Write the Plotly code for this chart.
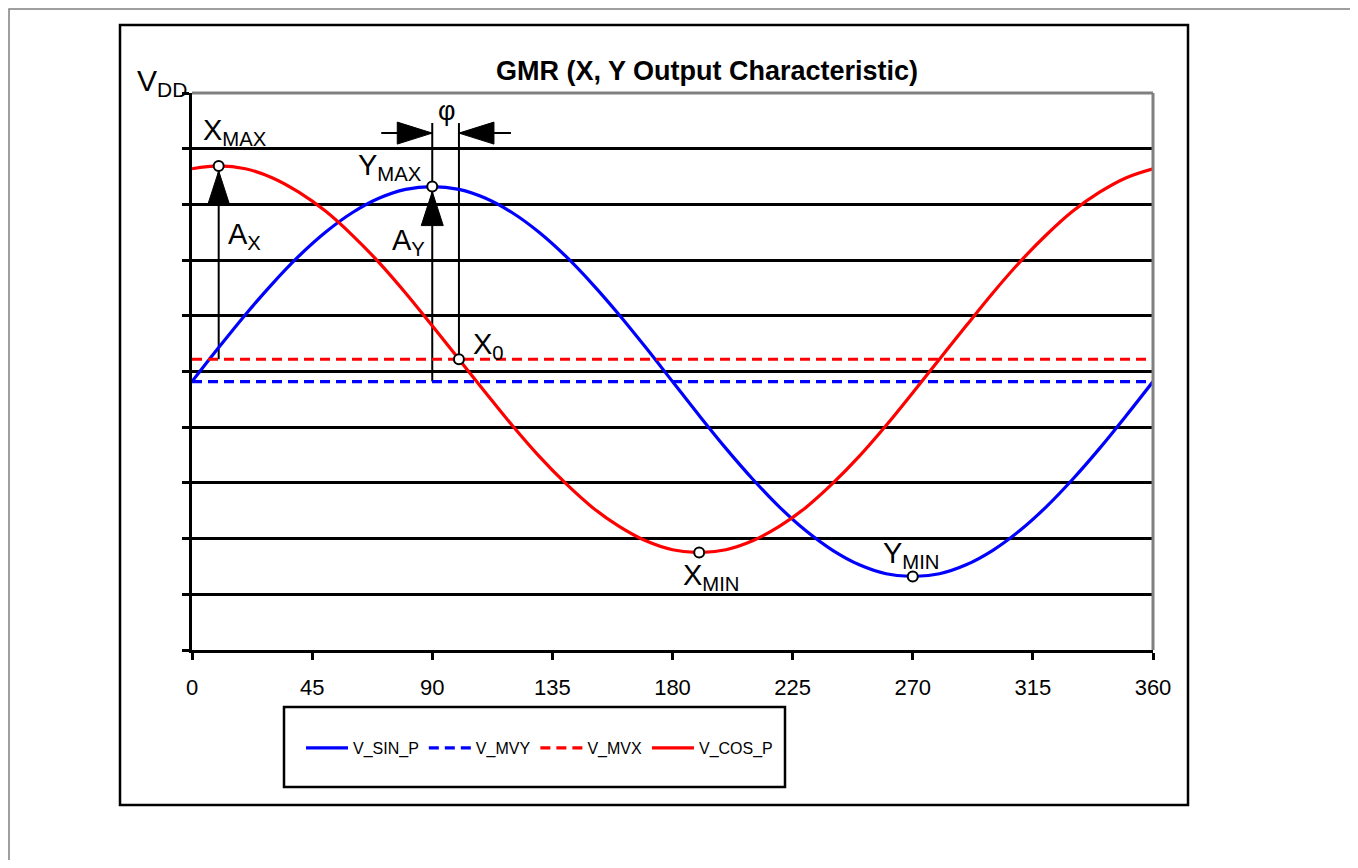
import plotly.graph_objects as go

# ---------------- data ----------------
DEG = list(range(0, 361, 10))
V_SIN_P = [4.82, 5.43, 6.02, 6.57, 7.07, 7.50, 7.85, 8.11, 8.27, 8.32,
           8.27, 8.11, 7.85, 7.50, 7.07, 6.57, 6.02, 5.43, 4.82, 4.21,
           3.62, 3.07, 2.57, 2.14, 1.79, 1.53, 1.37, 1.32, 1.37, 1.53,
           1.79, 2.14, 2.57, 3.07, 3.62, 4.21, 4.82]
V_COS_P = [8.64, 8.69, 8.64, 8.48, 8.22, 7.88, 7.45, 6.96, 6.41, 5.82,
           5.22, 4.62, 4.03, 3.48, 2.99, 2.56, 2.22, 1.96, 1.80, 1.75,
           1.80, 1.96, 2.22, 2.56, 2.99, 3.48, 4.03, 4.62, 5.22, 5.82,
           6.41, 6.96, 7.45, 7.88, 8.22, 8.48, 8.64]
MV_DEG = [0, 360]
V_MVY = [4.82, 4.82]
V_MVX = [5.22, 5.22]
X_TICKS = [0, 45, 90, 135, 180, 225, 270, 315, 360]
Y_TICKS = [0, 1, 2, 3, 4, 5, 6, 7, 8, 9, 10]
TITLE = "GMR (X, Y Output Characteristic)"

# characteristic points read from the series
i_xmax = V_COS_P.index(max(V_COS_P))
i_xmin = V_COS_P.index(min(V_COS_P))
i_ymax = V_SIN_P.index(max(V_SIN_P))
i_ymin = V_SIN_P.index(min(V_SIN_P))
i_x0 = 10  # 100 deg, where V_COS_P crosses V_MVX
PT_X = [DEG[i_xmax], DEG[i_ymax], DEG[i_x0], DEG[i_xmin], DEG[i_ymin]]
PT_Y = [V_COS_P[i_xmax], V_SIN_P[i_ymax], V_MVX[0], V_COS_P[i_xmin], V_SIN_P[i_ymin]]

# ---------------- layout geometry (screen coords, page has 8px body margin) ----------------
OFF = 8
W, H = 1342, 852
L, R, T, B = 192, 1153, 93, 650   # plot area on screen
PW, PH = R - L, B - T


def px(x):
    return (x - L) / PW


def py(y):
    return (B - y) / PH


FONT = "Liberation Sans, Arial, sans-serif"
BLUE = "#0000FF"
RED = "#FF0000"
GRAY = "#808080"

fig = go.Figure()
fig.add_trace(go.Scatter(x=DEG, y=V_SIN_P, name="V_SIN_P", mode="lines",
                         line=dict(color=BLUE, width=3.2, shape="spline")))
fig.add_trace(go.Scatter(x=MV_DEG, y=V_MVY, name="V_MVY", mode="lines",
                         line=dict(color=BLUE, width=3.2, dash="10px,6px")))
fig.add_trace(go.Scatter(x=MV_DEG, y=V_MVX, name="V_MVX", mode="lines",
                         line=dict(color=RED, width=3.2, dash="10px,6px")))
fig.add_trace(go.Scatter(x=DEG, y=V_COS_P, name="V_COS_P", mode="lines",
                         line=dict(color=RED, width=3.2, shape="spline")))
fig.add_trace(go.Scatter(x=PT_X, y=PT_Y, mode="markers", showlegend=False,
                         marker=dict(symbol="circle", size=10, color="white",
                                     line=dict(color="black", width=2))))

PHI_Y = 9.28     # level of the phi arrows
PHI_TOP = 9.46   # top of the phi guide lines

shapes = []
# frames
shapes.append(dict(type="rect", xref="paper", yref="paper", x0=px(9), x1=px(1600),
                   y0=py(1100), y1=py(9), line=dict(color=GRAY, width=1.5), layer="below"))
shapes.append(dict(type="rect", xref="paper", yref="paper", x0=px(120), x1=px(1188),
                   y0=py(805), y1=py(25), line=dict(color="black", width=2.5), layer="below"))
shapes.append(dict(type="rect", xref="paper", yref="paper", x0=px(284), x1=px(785),
                   y0=py(787), y1=py(707), line=dict(color="black", width=2.5), layer="below"))
# gray top/right plot border
shapes.append(dict(type="line", xref="paper", yref="paper", x0=0, x1=1, y0=1, y1=1,
                   line=dict(color=GRAY, width=3), layer="above"))
shapes.append(dict(type="line", xref="paper", yref="paper", x0=1, x1=1, y0=0, y1=1,
                   line=dict(color=GRAY, width=3), layer="above"))

BL = dict(color="black", width=2)
# guide lines
shapes.append(dict(type="line", x0=PT_X[0], x1=PT_X[0], y0=V_MVX[0], y1=PT_Y[0], line=BL, layer="between"))
shapes.append(dict(type="line", x0=PT_X[1], x1=PT_X[1], y0=V_MVY[0], y1=PHI_TOP, line=BL, layer="between"))
shapes.append(dict(type="line", x0=PT_X[2], x1=PT_X[2], y0=V_MVX[0], y1=PHI_TOP, line=BL, layer="between"))
# phi horizontal arrows (pixel offsets)
shapes.append(dict(type="line", xsizemode="pixel", xanchor=PT_X[1], x0=-51, x1=0,
                   y0=PHI_Y, y1=PHI_Y, line=BL, layer="between"))
shapes.append(dict(type="line", xsizemode="pixel", xanchor=PT_X[2], x0=0, x1=52,
                   y0=PHI_Y, y1=PHI_Y, line=BL, layer="between"))


def head(xa, ya, path):
    return dict(type="path", xsizemode="pixel", ysizemode="pixel", xanchor=xa, yanchor=ya,
                path=path, fillcolor="black", line=dict(color="black", width=1), layer="between")


# upward arrowheads below Xmax and Ymax
shapes.append(head(PT_X[0], PT_Y[0], "M 0,-5 L -11,-39 L 11,-39 Z"))
shapes.append(head(PT_X[1], PT_Y[1], "M 0,-5 L -11,-39 L 11,-39 Z"))
# phi arrowheads
shapes.append(head(PT_X[1], PHI_Y, "M 0,0 L -35,11 L -35,-11 Z"))
shapes.append(head(PT_X[2], PHI_Y, "M 0,0 L 35,11 L 35,-11 Z"))

ann = []


def lab(text, x, y, size=29):
    ann.append(dict(text=text, xref="paper", yref="paper", x=px(x), y=py(y),
                    xanchor="left", yanchor="middle", showarrow=False,
                    font=dict(family=FONT, size=size, color="black")))


lab("V<sub>DD</sub>", 135, 83, size=30)
lab("X<sub>MAX</sub>", 201, 132)
lab("Y<sub>MAX</sub>", 356, 167)
lab("A<sub>X</sub>", 226, 236)
lab("A<sub>Y</sub>", 390, 242)
lab("X<sub>0</sub>", 471, 346)
lab("X<sub>MIN</sub>", 681, 577)
lab("Y<sub>MIN</sub>", 881, 555)
ann.append(dict(text="φ", xref="paper", yref="paper", x=px(447), y=py(111),
                xanchor="center", yanchor="middle", showarrow=False,
                font=dict(family=FONT, size=27, color="black")))
ann.append(dict(text="<b>" + TITLE + "</b>", xref="paper", yref="paper", x=px(707), y=py(71),
                xanchor="center", yanchor="middle", showarrow=False,
                font=dict(family=FONT, size=27, color="black")))

fig.update_layout(
    width=W, height=H, autosize=False,
    margin=dict(l=L - OFF, r=W - (R - OFF), t=T - OFF, b=H - (B - OFF), pad=0),
    paper_bgcolor="white", plot_bgcolor="white",
    shapes=shapes, annotations=ann,
    font=dict(family=FONT, color="black"),
    showlegend=True,
    legend=dict(orientation="h", x=px(301), y=py(748), xanchor="left", yanchor="middle",
                bgcolor="rgba(0,0,0,0)", borderwidth=0, itemwidth=42,
                font=dict(family=FONT, size=16, color="black"),
                itemclick=False, itemdoubleclick=False),
    xaxis=dict(range=[0, 360], tickvals=X_TICKS, ticktext=[str(v) for v in X_TICKS],
               showgrid=False, zeroline=False, showline=True, linecolor="black", linewidth=3,
               ticks="outside", ticklen=7, tickwidth=3, tickcolor="black",
               tickfont=dict(family=FONT, size=22, color="black"), ticklabelstandoff=9,
               fixedrange=True),
    yaxis=dict(range=[0, 10], tickvals=Y_TICKS, showticklabels=False,
               showgrid=True, gridcolor="black", gridwidth=3, zeroline=False,
               showline=True, linecolor="black", linewidth=3,
               ticks="outside", ticklen=7, tickwidth=3, tickcolor="black", fixedrange=True),
)

fig.write_html("out.html")
